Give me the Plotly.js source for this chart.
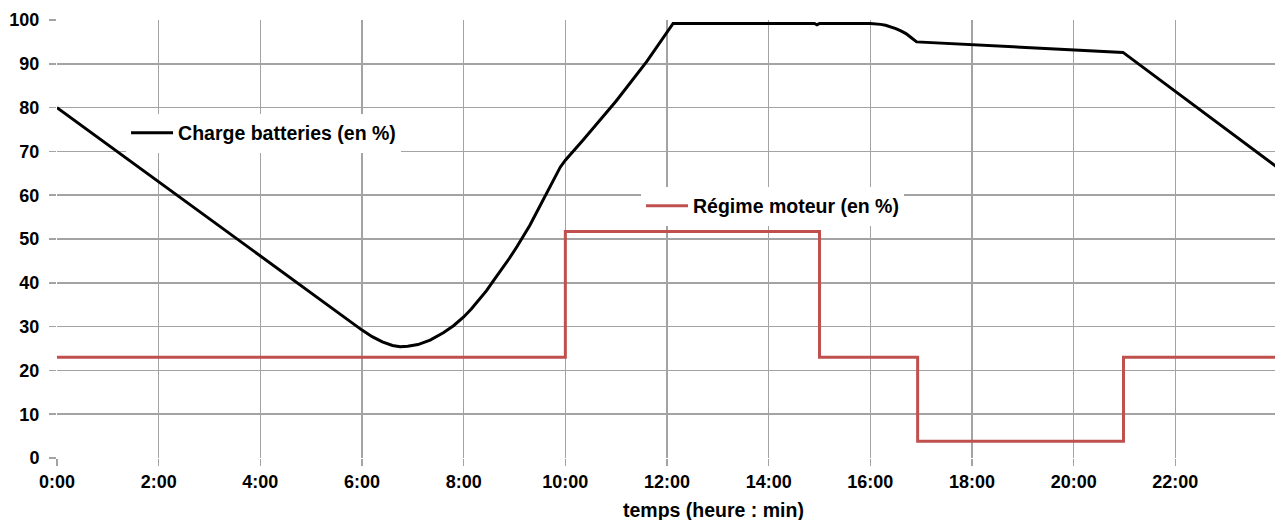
<!DOCTYPE html>
<html>
<head>
<meta charset="utf-8">
<script src="https://cdn.plot.ly/plotly-3.0.1.min.js"></script>
<style>
html,body{margin:0;padding:0;background:#fff;}
#chart{width:1275px;height:520px;}
</style>
</head>
<body>
<div id="chart"></div>
<script>
// Time in hours (decimal)
const chargeTime = [0, 5.8, 6.0, 6.2, 6.4, 6.6, 6.75, 6.9, 7.1, 7.34, 7.6, 7.8, 8.0, 8.15, 8.3, 8.45, 8.58, 8.75, 8.9, 9.05, 9.17, 9.3, 9.4, 9.52, 9.63, 9.72, 9.8, 9.9, 10.0, 10.35, 11.0, 11.6, 12.12, 14.9, 14.95, 15.0, 16.0, 16.1, 16.2, 16.3, 16.4, 16.5, 16.6, 16.7, 16.8, 16.91, 20.97, 24.0];
const chargeValues = [80, 30.7, 29.2, 27.7, 26.5, 25.7, 25.4, 25.5, 25.9, 26.9, 28.6, 30.2, 32.2, 34.0, 36.0, 38.2, 40.4, 43.1, 45.6, 48.3, 50.5, 53.1, 55.3, 58.0, 60.6, 62.7, 64.5, 66.4, 68.0, 72.6, 81.5, 90.5, 99.2, 99.2, 98.9, 99.2, 99.2, 99.15, 99.0, 98.8, 98.5, 98.05, 97.5, 96.9, 96.0, 95.0, 92.6, 66.4];

const regimeTime = [0, 10, 15, 16.93, 20.98, 24];
const regimeValues = [23, 51.7, 23, 3.8, 23, 23];

const xTickVals = [0, 2, 4, 6, 8, 10, 12, 14, 16, 18, 20, 22];
const xTickText = ["0:00", "2:00", "4:00", "6:00", "8:00", "10:00", "12:00", "14:00", "16:00", "18:00", "20:00", "22:00"];
const yTickVals = [0, 10, 20, 30, 40, 50, 60, 70, 80, 90, 100];

const seriesNames = ["Charge batteries (en %)", "Régime moteur (en %)"];
const xTitle = "temps (heure : min)";

const FONT = "Liberation Sans, Arial, Helvetica, sans-serif";
const GRID = "#a3a3a3";

const traces = [
  {
    x: chargeTime, y: chargeValues, type: "scatter", mode: "lines",
    name: seriesNames[0], line: {color: "#000000", width: 3}, legend: "legend"
  },
  {
    x: regimeTime, y: regimeValues, type: "scatter", mode: "lines",
    name: seriesNames[1], line: {color: "#c0504d", width: 3, shape: "hv"}, legend: "legend2"
  }
];

const legendFont = {family: FONT, size: 19.5, weight: "bold", color: "#000"};

const layout = {
  width: 1275, height: 520,
  margin: {l: 57, r: 0, t: 20, b: 62.3, pad: 0},
  paper_bgcolor: "#ffffff", plot_bgcolor: "#ffffff",
  font: {family: FONT, color: "#000", size: 18},
  showlegend: true,
  xaxis: {
    range: [0, 23.96], tickvals: xTickVals, ticktext: xTickText,
    showgrid: true, gridcolor: GRID, gridwidth: 1.5, zeroline: false, showline: false,
    ticks: "outside", ticklen: 7, tickcolor: GRID, tickwidth: 1.5,
    tickfont: {family: FONT, size: 18, weight: "bold", color: "#000"},
    fixedrange: true
  },
  yaxis: {
    range: [0, 100], tickvals: yTickVals,
    showgrid: true, gridcolor: GRID, gridwidth: 1.5, zeroline: false, showline: false,
    ticks: "outside", ticklen: 7, tickcolor: GRID, tickwidth: 1.5,
    ticklabelstandoff: 6,
    tickfont: {family: FONT, size: 18, weight: "bold", color: "#000"},
    fixedrange: true
  },
  legend: {
    x: 0.0567, y: 0.742, xanchor: "left", yanchor: "middle",
    bgcolor: "#ffffff", borderwidth: 0, itemwidth: 42,
    font: legendFont
  },
  legend2: {
    x: 0.4795, y: 0.575, xanchor: "left", yanchor: "middle",
    bgcolor: "#ffffff", borderwidth: 0, itemwidth: 42,
    font: legendFont
  },
  annotations: [
    {
      text: xTitle, xref: "paper", yref: "paper",
      x: 0.5394, y: -0.1195, xanchor: "center", yanchor: "middle",
      showarrow: false,
      font: {family: FONT, size: 19.5, weight: "bold", color: "#000"}
    }
  ]
};

Plotly.newPlot("chart", traces, layout, {displayModeBar: false, staticPlot: true});
</script>
</body>
</html>
